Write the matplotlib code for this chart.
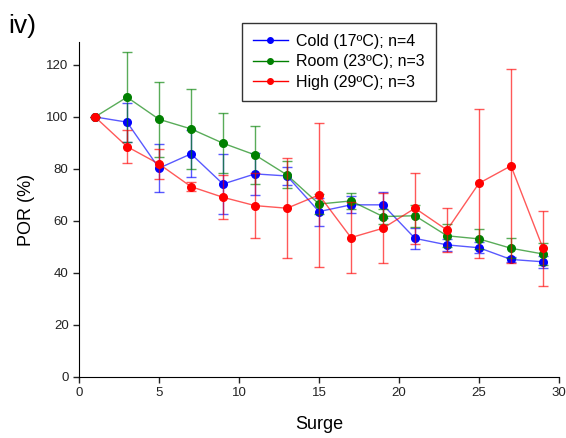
import numpy as np
import matplotlib

matplotlib.use("Agg")
from matplotlib import pyplot as plt  # noqa: E402

plt.rcParams["font.family"] = ["Liberation Sans", "DejaVu Sans"]

# surge number
surge = [1, 3, 5, 7, 9, 11, 13, 15, 17, 19, 21, 23, 25, 27, 29]

# mean POR (%) and error per condition
cold_mean = [100, 98, 80.3, 85.8, 74.2, 78.1, 77.3, 63.6, 66.2, 66.2, 53.3, 50.8, 49.7, 45.2, 44.3]
cold_err = [0, 7.5, 9.2, 9.0, 11.5, 8.0, 3.5, 5.4, 3.3, 5.0, 4.0, 2.3, 2.1, 1.0, 2.2]

room_mean = [100, 107.6, 99.1, 95.4, 89.9, 85.4, 77.7, 66.5, 67.7, 61.7, 62.0, 54.3, 53.1, 49.5, 47.3]
room_err = [0, 17.2, 14.5, 15.4, 11.5, 11.3, 5.2, 4.0, 3.2, 3.0, 4.2, 4.4, 3.9, 3.9, 4.1]

high_mean = [100, 88.6, 81.9, 73.2, 69.1, 65.9, 64.9, 70.0, 53.6, 57.2, 64.9, 56.5, 74.5, 81.2, 49.5]
high_err = [0, 6.4, 5.6, 1.8, 8.4, 12.6, 19.3, 27.6, 13.5, 13.5, 13.7, 8.5, 28.7, 37.3, 14.4]

series = [
    ("Cold (17\u00baC); n=4", cold_mean, cold_err, "#0000ff"),
    ("Room (23\u00baC); n=3", room_mean, room_err, "#008000"),
    ("High (29\u00baC); n=3", high_mean, high_err, "#ff0000"),
]


def main():
    fig = plt.figure(figsize=(5.66, 4.38), dpi=100)
    ax = fig.add_axes([0.1396, 0.1393, 0.848, 0.7647])

    for label, mean, err, color in series:
        ax.errorbar(
            surge, mean, yerr=err, fmt="none", ecolor=color,
            elinewidth=1.0, capsize=3.6, capthick=1.0, alpha=0.65,
        )
        ax.plot(surge, mean, "-", color=color, linewidth=1.0, alpha=0.65)
        ax.plot(surge, mean, "o", color=color, markersize=5.5, label=label)

    ax.set_xlim(0, 30)
    ax.set_ylim(0, 128.8)
    ax.set_xticks(np.arange(0, 31, 5))
    ax.set_yticks(np.arange(0, 121, 20))
    ax.spines["top"].set_visible(False)
    ax.spines["right"].set_visible(False)
    ax.tick_params(direction="out", length=4, width=1, labelsize=9.5, colors="#222222")
    ax.set_xlabel("Surge", fontsize=13, labelpad=12)
    ax.set_ylabel("POR (%)", fontsize=13, labelpad=8)

    # legend with line + small marker handles
    handles = [
        plt.Line2D([], [], color=c, linewidth=1.0, marker="o", markersize=4)
        for _, _, _, c in series
    ]
    leg = ax.legend(
        handles, [s[0] for s in series],
        loc="upper left", bbox_to_anchor=(0.339, 1.058), borderaxespad=0,
        fontsize=11.5, frameon=True, fancybox=False, edgecolor="black",
        handlelength=2.2, handletextpad=0.5, borderpad=0.7, labelspacing=0.35,
    )
    leg.get_frame().set_linewidth(1.0)
    leg.set_clip_on(False)

    fig.text(0.015, 0.925, "iv)", fontsize=19)

    fig.savefig("out.png", dpi=100)


if __name__ == "__main__":
    main()
